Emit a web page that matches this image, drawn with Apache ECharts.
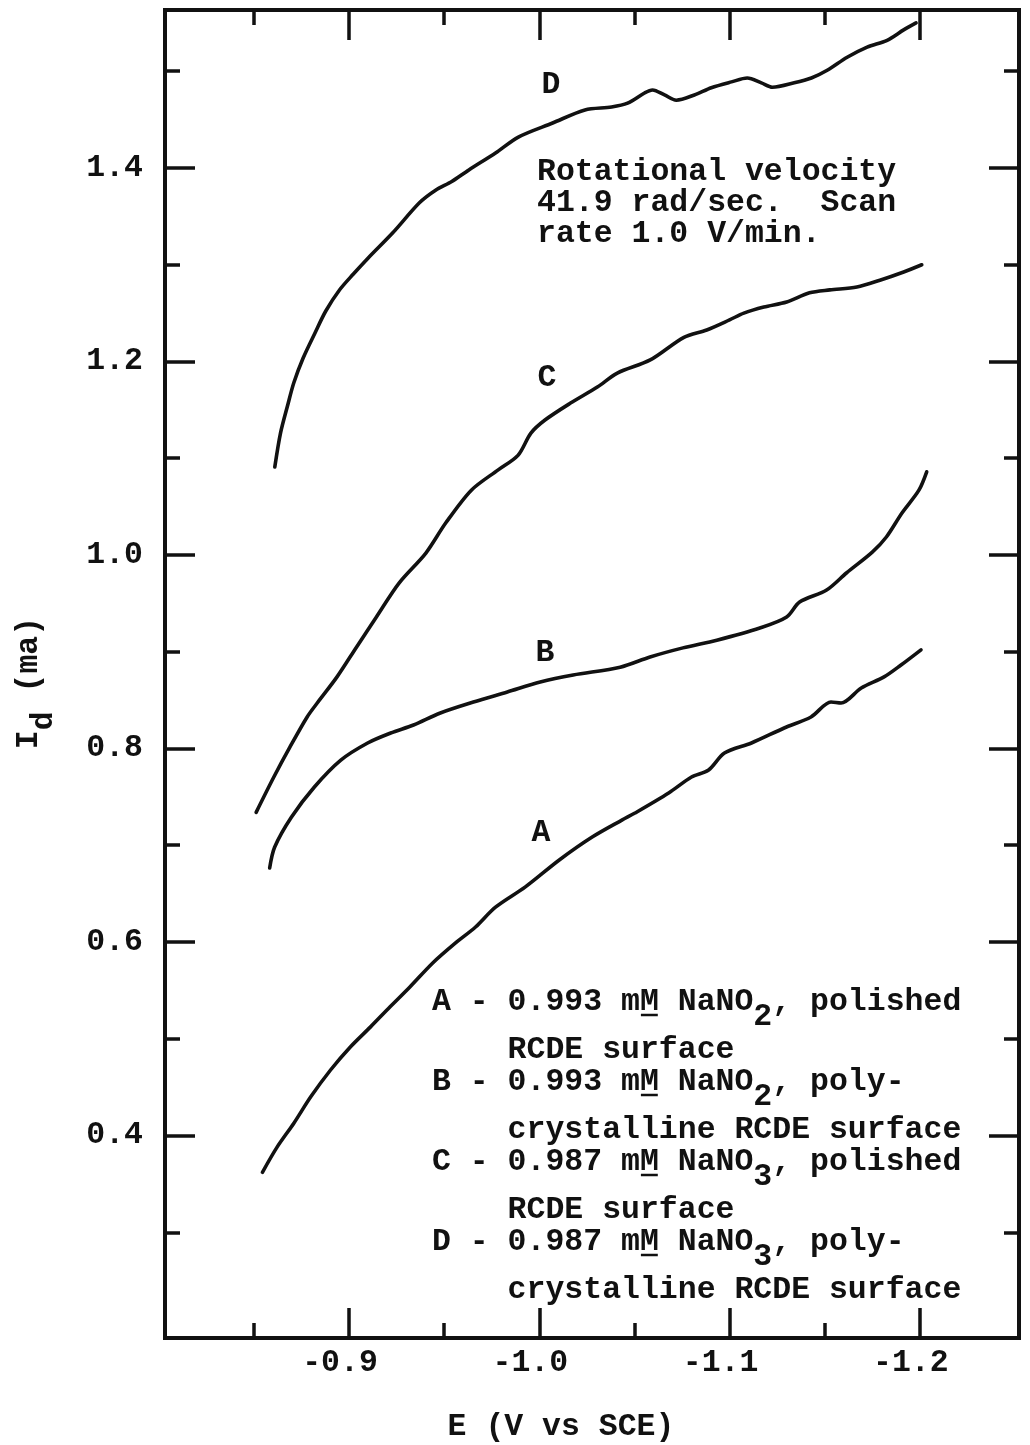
<!DOCTYPE html>
<html>
<head>
<meta charset="utf-8">
<title>Limiting current vs potential</title>
<script src="https://cdn.jsdelivr.net/npm/echarts@6/dist/echarts.min.js"></script>
<style>
  html, body { margin: 0; padding: 0; background: #ffffff; }
  #chart { width: 1030px; height: 1445px; }
</style>
</head>
<body>
<div id="chart"></div>
<script>
// Limiting current I_d (mA) against electrode potential E (V vs SCE)
// for nitrite / nitrate at a rotating electrode, four runs A-D.

// Curve A: 0.993 mM NaNO2, polished surface
const eA = [-0.8545, -0.8622, -0.8711, -0.8799, -0.8903, -0.9007, -0.9112, -0.9216, -0.932, -0.944,
            -0.956, -0.9665, -0.977, -0.9927, -1.0105, -1.0278, -1.0434, -1.0503, -1.068, -1.08,
            -1.089, -1.0973, -1.1115, -1.1287, -1.1428, -1.1533, -1.1586, -1.1692, -1.1812, -1.1901, -1.2006];
const idA = [0.362, 0.388, 0.413, 0.440, 0.4677, 0.4915, 0.512, 0.533, 0.5535, 0.5783,
             0.599, 0.6155, 0.636, 0.657, 0.6848, 0.7085, 0.726, 0.7333, 0.754, 0.7705,
             0.7778, 0.7953, 0.8057, 0.8212, 0.8326, 0.848, 0.847, 0.8625, 0.874, 0.8863, 0.902];

// Curve B: 0.993 mM NaNO2, polycrystalline surface
const eB = [-0.8583, -0.8609, -0.8697, -0.8817, -0.8957, -0.9098, -0.9219, -0.9339, -0.948, -0.9654,
            -0.9832, -1.0005, -1.0178, -1.0425, -1.0582, -1.0755, -1.0933, -1.1159, -1.130, -1.1368,
            -1.151, -1.1614, -1.175, -1.1824, -1.1906, -1.1995, -1.2036];
const idB = [0.6765, 0.698, 0.729, 0.760, 0.788, 0.8057, 0.816, 0.8243, 0.8367, 0.848,
             0.8584, 0.8687, 0.876, 0.884, 0.8946, 0.904, 0.912, 0.9246, 0.936, 0.9514,
             0.9638, 0.9814, 1.003, 1.0186, 1.0434, 1.067, 1.086];

// Curve C: 0.987 mM NaNO3, polished surface
const eC = [-0.8512, -0.8605, -0.869, -0.878, -0.8833, -0.8937, -0.904, -0.9144, -0.9263, -0.9404,
            -0.9508, -0.9643, -0.9784, -0.9888, -0.9956, -1.003, -1.0164, -1.0305, -1.041, -1.0583,
            -1.076, -1.088, -1.1, -1.1075, -1.118, -1.130, -1.142, -1.1527, -1.1669, -1.179, -1.1915, -1.201];
const idC = [0.734, 0.7705, 0.8016, 0.8326, 0.847, 0.874, 0.905, 0.936, 0.971, 1.002,
             1.033, 1.067, 1.088, 1.103, 1.126, 1.1395, 1.157, 1.1736, 1.188, 1.2016,
             1.225, 1.2326, 1.243, 1.250, 1.2563, 1.2615, 1.271, 1.274, 1.277, 1.284, 1.2925, 1.30];

// Curve D: 0.987 mM NaNO3, polycrystalline surface
const eD = [-0.861, -0.864, -0.8678, -0.871, -0.8759, -0.882, -0.8878, -0.895, -0.9023, -0.9101,
            -0.923, -0.937, -0.9455, -0.954, -0.963, -0.977, -0.989, -1.007, -1.024, -1.038,
            -1.0464, -1.0553, -1.0595, -1.0658, -1.072, -1.0815, -1.0904, -1.101, -1.1093, -1.1167,
            -1.1225, -1.134, -1.143, -1.1513, -1.1618, -1.1723, -1.1828, -1.1917, -1.198];
const idD = [1.091, 1.126, 1.155, 1.178, 1.2036, 1.229, 1.2522, 1.2739, 1.2904, 1.307,
             1.333, 1.364, 1.377, 1.386, 1.398, 1.4155, 1.432, 1.4465, 1.46, 1.463,
             1.467, 1.4775, 1.4806, 1.4755, 1.470, 1.4755, 1.483, 1.489, 1.493, 1.488,
             1.4835, 1.488, 1.493, 1.501, 1.5145, 1.525, 1.532, 1.543, 1.550];

// Curve letters and where they sit (E, I_d)
const curveNames = ['A', 'B', 'C', 'D'];
const labelE = [-1.0009, -1.0030, -1.0040, -1.0061];
const labelId = [0.7127, 0.8987, 1.1829, 1.4858];

// Tick values
const xMajorTicks = [-0.9, -1.0, -1.1, -1.2];
const xMinorTicks = [-0.85, -0.95, -1.05, -1.15];
const yMajorTicks = [0.4, 0.6, 0.8, 1.0, 1.2, 1.4];
const yMinorTicks = [0.3, 0.5, 0.7, 0.9, 1.1, 1.3, 1.5];

// Text
const xTitle = 'E (V vs SCE)';
const yTitleMain = 'I';
const yTitleSub = 'd';
const yTitleUnit = ' (ma)';
const noteLines = ['Rotational velocity', '41.9 rad/sec.  Scan', 'rate 1.0 V/min.'];
const keyRows = [
  ['A - 0.993 mM NaNO', '2', ', polished'],
  ['    RCDE surface'],
  ['B - 0.993 mM NaNO', '2', ', poly-'],
  ['    crystalline RCDE surface'],
  ['C - 0.987 mM NaNO', '3', ', polished'],
  ['    RCDE surface'],
  ['D - 0.987 mM NaNO', '3', ', poly-'],
  ['    crystalline RCDE surface']
];

const FONT = "'Liberation Mono', 'DejaVu Sans Mono', monospace";
const FS = 31.5;
const ADV = FS * 0.6;
const INK = '#111111';

const GRID = { left: 165, right: 11, top: 10, bottom: 107 };
const X_MIN = -1.2521, X_MAX = -0.8033;
const Y_MIN = 0.1907, Y_MAX = 1.5633;

function xAxisDef(position, ticks, len, withLine, withLabels) {
  return {
    type: 'value', position: position, inverse: true, min: X_MIN, max: X_MAX,
    axisLine: { show: withLine, onZero: false, lineStyle: { color: INK, width: 4, cap: 'square' } },
    axisTick: { show: true, inside: true, length: len, customValues: ticks,
                lineStyle: { color: INK, width: 3.5 } },
    axisLabel: { show: withLabels, customValues: ticks, margin: 9, padding: [0, 18, 0, 0],
                 formatter: function (v) { return v.toFixed(1); },
                 color: INK, fontFamily: FONT, fontSize: FS, fontWeight: 'bold' },
    splitLine: { show: false }
  };
}

function yAxisDef(position, ticks, len, withLine, withLabels) {
  return {
    type: 'value', position: position, min: Y_MIN, max: Y_MAX,
    axisLine: { show: withLine, onZero: false, lineStyle: { color: INK, width: 4, cap: 'square' } },
    axisTick: { show: true, inside: true, length: len, customValues: ticks,
                lineStyle: { color: INK, width: 3.5 } },
    axisLabel: { show: withLabels, customValues: ticks, margin: 22,
                 formatter: function (v) { return v.toFixed(1); },
                 color: INK, fontFamily: FONT, fontSize: FS, fontWeight: 'bold' },
    splitLine: { show: false }
  };
}

function curve(name, es, ids, k) {
  return {
    name: name, type: 'line', xAxisIndex: 0, yAxisIndex: 0,
    data: es.map(function (e, i) { return [e, ids[i]]; }),
    showSymbol: false, symbol: 'none', smooth: 0.3,
    lineStyle: { color: INK, width: 3.6, cap: 'round', join: 'round' },
    silent: true,
    markPoint: {
      symbol: 'circle', symbolSize: 1, silent: true,
      itemStyle: { color: 'rgba(0,0,0,0)' },
      label: { show: true, position: 'inside', formatter: curveNames[k],
               color: INK, fontFamily: FONT, fontSize: FS, fontWeight: 'bold' },
      data: [{ coord: [labelE[k], labelId[k]] }]
    }
  };
}

const baseText = { fontFamily: FONT, fontSize: FS, fontWeight: 'bold', fill: INK };
const rich = {
  t: Object.assign({ lineHeight: 32 }, baseText),
  s: Object.assign({ lineHeight: 32, padding: [30, 0, 0, 0] }, baseText)
};

const graphics = [];

// Run conditions note
const noteY = [172, 203, 234];
noteLines.forEach(function (line, i) {
  graphics.push({ type: 'text', x: 537, y: noteY[i], silent: true,
    style: Object.assign({ text: line, textAlign: 'left', textVerticalAlign: 'middle' }, baseText) });
});

// Key to the curves
const keyY = [1002, 1050, 1082, 1130, 1162, 1210, 1242, 1290];
const keyX = 432;
keyRows.forEach(function (row, i) {
  if (row.length === 1) {
    graphics.push({ type: 'text', x: keyX, y: keyY[i], silent: true,
      style: Object.assign({ text: row[0], textAlign: 'left', textVerticalAlign: 'middle' }, baseText) });
  } else {
    graphics.push({ type: 'text', x: keyX, y: keyY[i], silent: true,
      style: Object.assign({
        text: '{t|' + row[0] + '}{s|' + row[1] + '}{t|' + row[2] + '}',
        rich: rich, textAlign: 'left', textVerticalAlign: 'middle'
      }, baseText) });
    // underline beneath the molar "M" of "mM"
    const mx = keyX + 11 * ADV;
    graphics.push({ type: 'line', silent: true,
      shape: { x1: mx + 1, y1: keyY[i] + 13, x2: mx + ADV - 1, y2: keyY[i] + 13 },
      style: { stroke: INK, lineWidth: 2.5 } });
  }
});

// Axis titles
graphics.push({ type: 'text', x: 561, y: 1427, silent: true,
  style: Object.assign({ text: xTitle, textAlign: 'center', textVerticalAlign: 'middle' }, baseText) });
graphics.push({ type: 'text', x: 29, y: 683, rotation: Math.PI / 2, silent: true,
  style: Object.assign({
    text: '{t|' + yTitleMain + '}{s|' + yTitleSub + '}{t|' + yTitleUnit + '}',
    rich: rich, textAlign: 'center', textVerticalAlign: 'middle'
  }, baseText) });

const chart = echarts.init(document.getElementById('chart'), null, { renderer: 'canvas' });
chart.setOption({
  backgroundColor: '#ffffff',
  animation: false,
  grid: Object.assign({ containLabel: false, outerBoundsMode: 'none' }, GRID),
  xAxis: [
    xAxisDef('bottom', xMajorTicks, 30, true, true),
    xAxisDef('bottom', xMinorTicks, 15, false, false),
    xAxisDef('top', xMajorTicks, 30, true, false),
    xAxisDef('top', xMinorTicks, 15, false, false)
  ],
  yAxis: [
    yAxisDef('left', yMajorTicks, 30, true, true),
    yAxisDef('left', yMinorTicks, 15, false, false),
    yAxisDef('right', yMajorTicks, 30, true, false),
    yAxisDef('right', yMinorTicks, 15, false, false)
  ],
  series: [
    curve('A', eA, idA, 0),
    curve('B', eB, idB, 1),
    curve('C', eC, idC, 2),
    curve('D', eD, idD, 3)
  ],
  graphic: graphics
});
</script>
</body>
</html>
